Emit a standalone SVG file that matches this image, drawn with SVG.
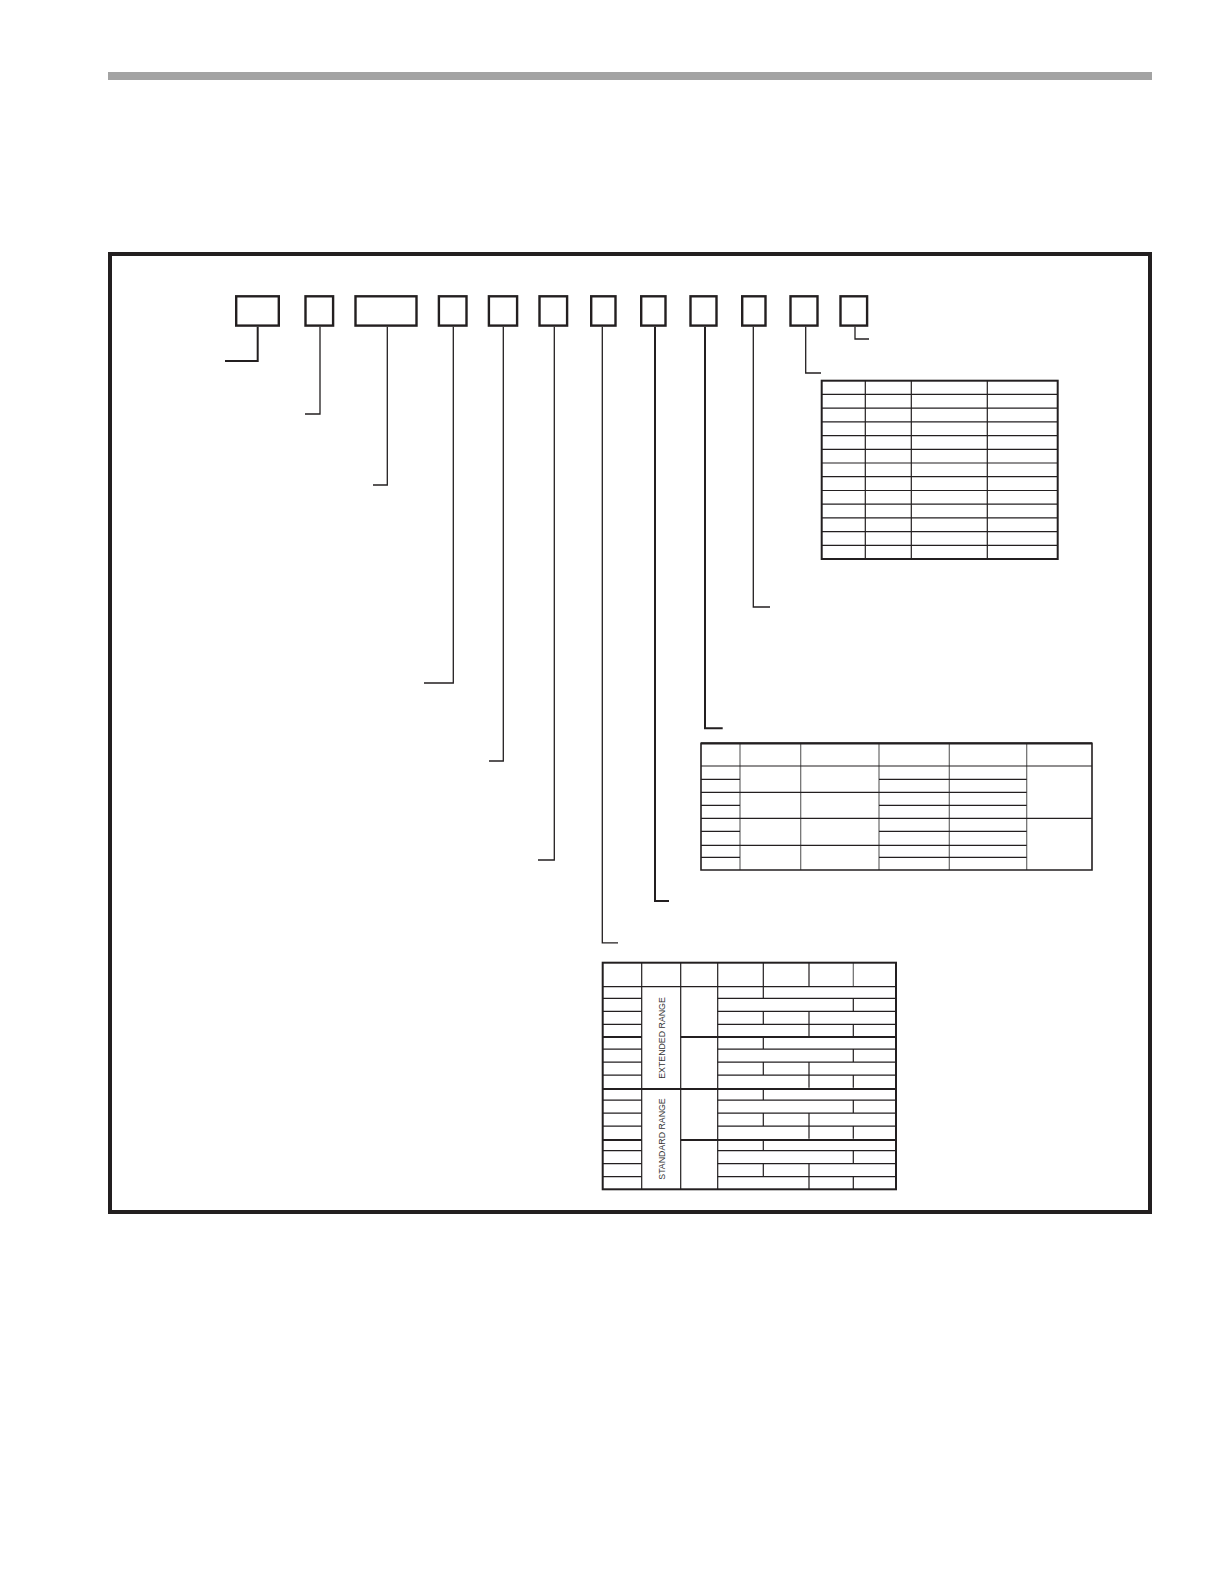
<svg xmlns="http://www.w3.org/2000/svg" width="1224" height="1584" viewBox="0 0 1224 1584">
<style>
.bx{fill:#fff;stroke:#231f20;stroke-width:2.4}
.ld{fill:none;stroke:#231f20;stroke-width:1.3}
.ldk{fill:none;stroke:#231f20;stroke-width:2}
.to{fill:none;stroke:#231f20;stroke-width:2}
.tl{stroke:#231f20;stroke-width:1.2;fill:none}
.tg{stroke:#6a6a6a;stroke-width:1.2;fill:none}
.tk{stroke:#231f20;stroke-width:2.2;fill:none}
.rt{font-family:"Liberation Sans",Arial,sans-serif;font-size:8.8px;fill:#333}
</style>
<rect x="108" y="72" width="1044" height="8" fill="#a3a3a3"/>
<rect x="110" y="254" width="1040" height="958" fill="none" stroke="#231f20" stroke-width="4"/>
<g id="boxes">
<rect id="b1" class="bx" x="236.2" y="296.3" width="42.6" height="29.3"/>
<rect id="b2" class="bx" x="305.5" y="296.3" width="27.6" height="29.3"/>
<rect id="b3" class="bx" x="355.5" y="296.3" width="61" height="29.3"/>
<rect id="b4" class="bx" x="438.9" y="296.3" width="27.6" height="29.3"/>
<rect id="b5" class="bx" x="488.9" y="296.3" width="28.2" height="29.3"/>
<rect id="b6" class="bx" x="539.5" y="296.3" width="27.6" height="29.3"/>
<rect id="b7" class="bx" x="591.2" y="296.3" width="24.3" height="29.3"/>
<rect id="b8" class="bx" x="641.2" y="296.3" width="24.3" height="29.3"/>
<rect id="b9" class="bx" x="690.5" y="296.3" width="26" height="29.3"/>
<rect id="b10" class="bx" x="742.2" y="296.3" width="23.3" height="29.3"/>
<rect id="b11" class="bx" x="790.5" y="296.3" width="27" height="29.3"/>
<rect id="b12" class="bx" x="840.5" y="296.3" width="26.6" height="29.3"/>
</g>
<g id="connectors">
<path class="ldk" d="M257.7 326.8 V361 H225"/>
<path class="ld" d="M320 326.8 V414 H305"/>
<path class="ld" d="M387.3 326.8 V485 H373"/>
<path class="ld" d="M453.3 326.8 V683 H424"/>
<path class="ld" d="M503.3 326.8 V761 H489"/>
<path class="ld" d="M554.3 326.8 V860 H538"/>
<path class="ld" d="M602.3 326.8 V942.8 H618"/>
<path class="ldk" d="M655 326.8 V901 H669"/>
<path class="ldk" d="M705 326.8 V728.3 H722.7"/>
<path class="ld" d="M753.3 326.8 V607 H770"/>
<path class="ld" d="M805.7 326.8 V373 H821"/>
<path class="ld" d="M855 326.8 V339 H869"/>
</g>
<g id="table-top">
<path class="tl" d="M865.3 380.7 V559 M911.3 380.7 V559 M987.3 380.7 V559"/>
<path class="tl" d="M821.7 394.4 H1057.7 M821.7 408.1 H1057.7 M821.7 421.9 H1057.7 M821.7 435.6 H1057.7 M821.7 449.3 H1057.7 M821.7 463 H1057.7 M821.7 476.7 H1057.7 M821.7 490.5 H1057.7 M821.7 504.2 H1057.7 M821.7 517.9 H1057.7 M821.7 531.6 H1057.7 M821.7 545.3 H1057.7"/>
<rect class="to" x="821.7" y="380.7" width="236" height="178.3"/>
</g>
<g id="table-mid">
<path class="tg" d="M740 743.3 V870 M800.7 743.3 V870 M879 743.3 V870 M949.3 743.3 V870 M1026.7 743.3 V870"/>
<path class="tl" d="M701 766 H1092 M701 818.3 H1092 M701 792.3 H1026.7 M701 845.3 H1026.7"/>
<path class="tl" d="M701 779.3 H740 M879 779.3 H1026.7 M701 805.3 H740 M879 805.3 H1026.7 M701 831.3 H740 M879 831.3 H1026.7 M701 857.3 H740 M879 857.3 H1026.7"/>
<path class="to" d="M701 870 V743.3 H1092 V870 Z" style="stroke-width:1.6"/>
<path class="tk" d="M701 743.3 H1092"/>
</g>
<g id="table-bottom">
<path class="tl" d="M641.7 962.7 V1189.3 M680.7 962.7 V1189.3 M717.7 962.7 V1189.3 M763.3 962.7 V986.7 M809 962.7 V986.7"/>
<path class="tg" d="M853.3 962.7 V986.7"/>
<path class="tl" d="M602.7 986.7 H896"/>
<g id="grp">
<path class="tl" d="M602.7 998.3 H641.7 M717.7 998.3 H896 M602.7 1011.3 H641.7 M717.7 1011.3 H896 M602.7 1024.3 H641.7 M717.7 1024.3 H896"/>
<path class="tl" d="M763.3 986.7 V998.3 M853.3 998.3 V1011.3 M763.3 1011.3 V1024.3 M809 1011.3 V1024.3 M809 1024.3 V1037 M853.3 1024.3 V1037"/>
</g>
<use href="#grp" transform="translate(0,50.8)"/>
<use href="#grp" transform="translate(0,101.8)"/>
<use href="#grp" transform="translate(0,152.4)"/>
<path class="tk" d="M602.7 1037 H641.7 M680.7 1037 H896 M602.7 1089 H896 M602.7 1140 H641.7 M680.7 1140 H896"/>
<rect class="to" x="602.7" y="962.7" width="293.3" height="226.6"/>
<text class="rt" transform="translate(664.6,1038) rotate(-90)" text-anchor="middle">EXTENDED RANGE</text>
<text class="rt" transform="translate(664.6,1139) rotate(-90)" text-anchor="middle">STANDARD RANGE</text>
</g>
</svg>
